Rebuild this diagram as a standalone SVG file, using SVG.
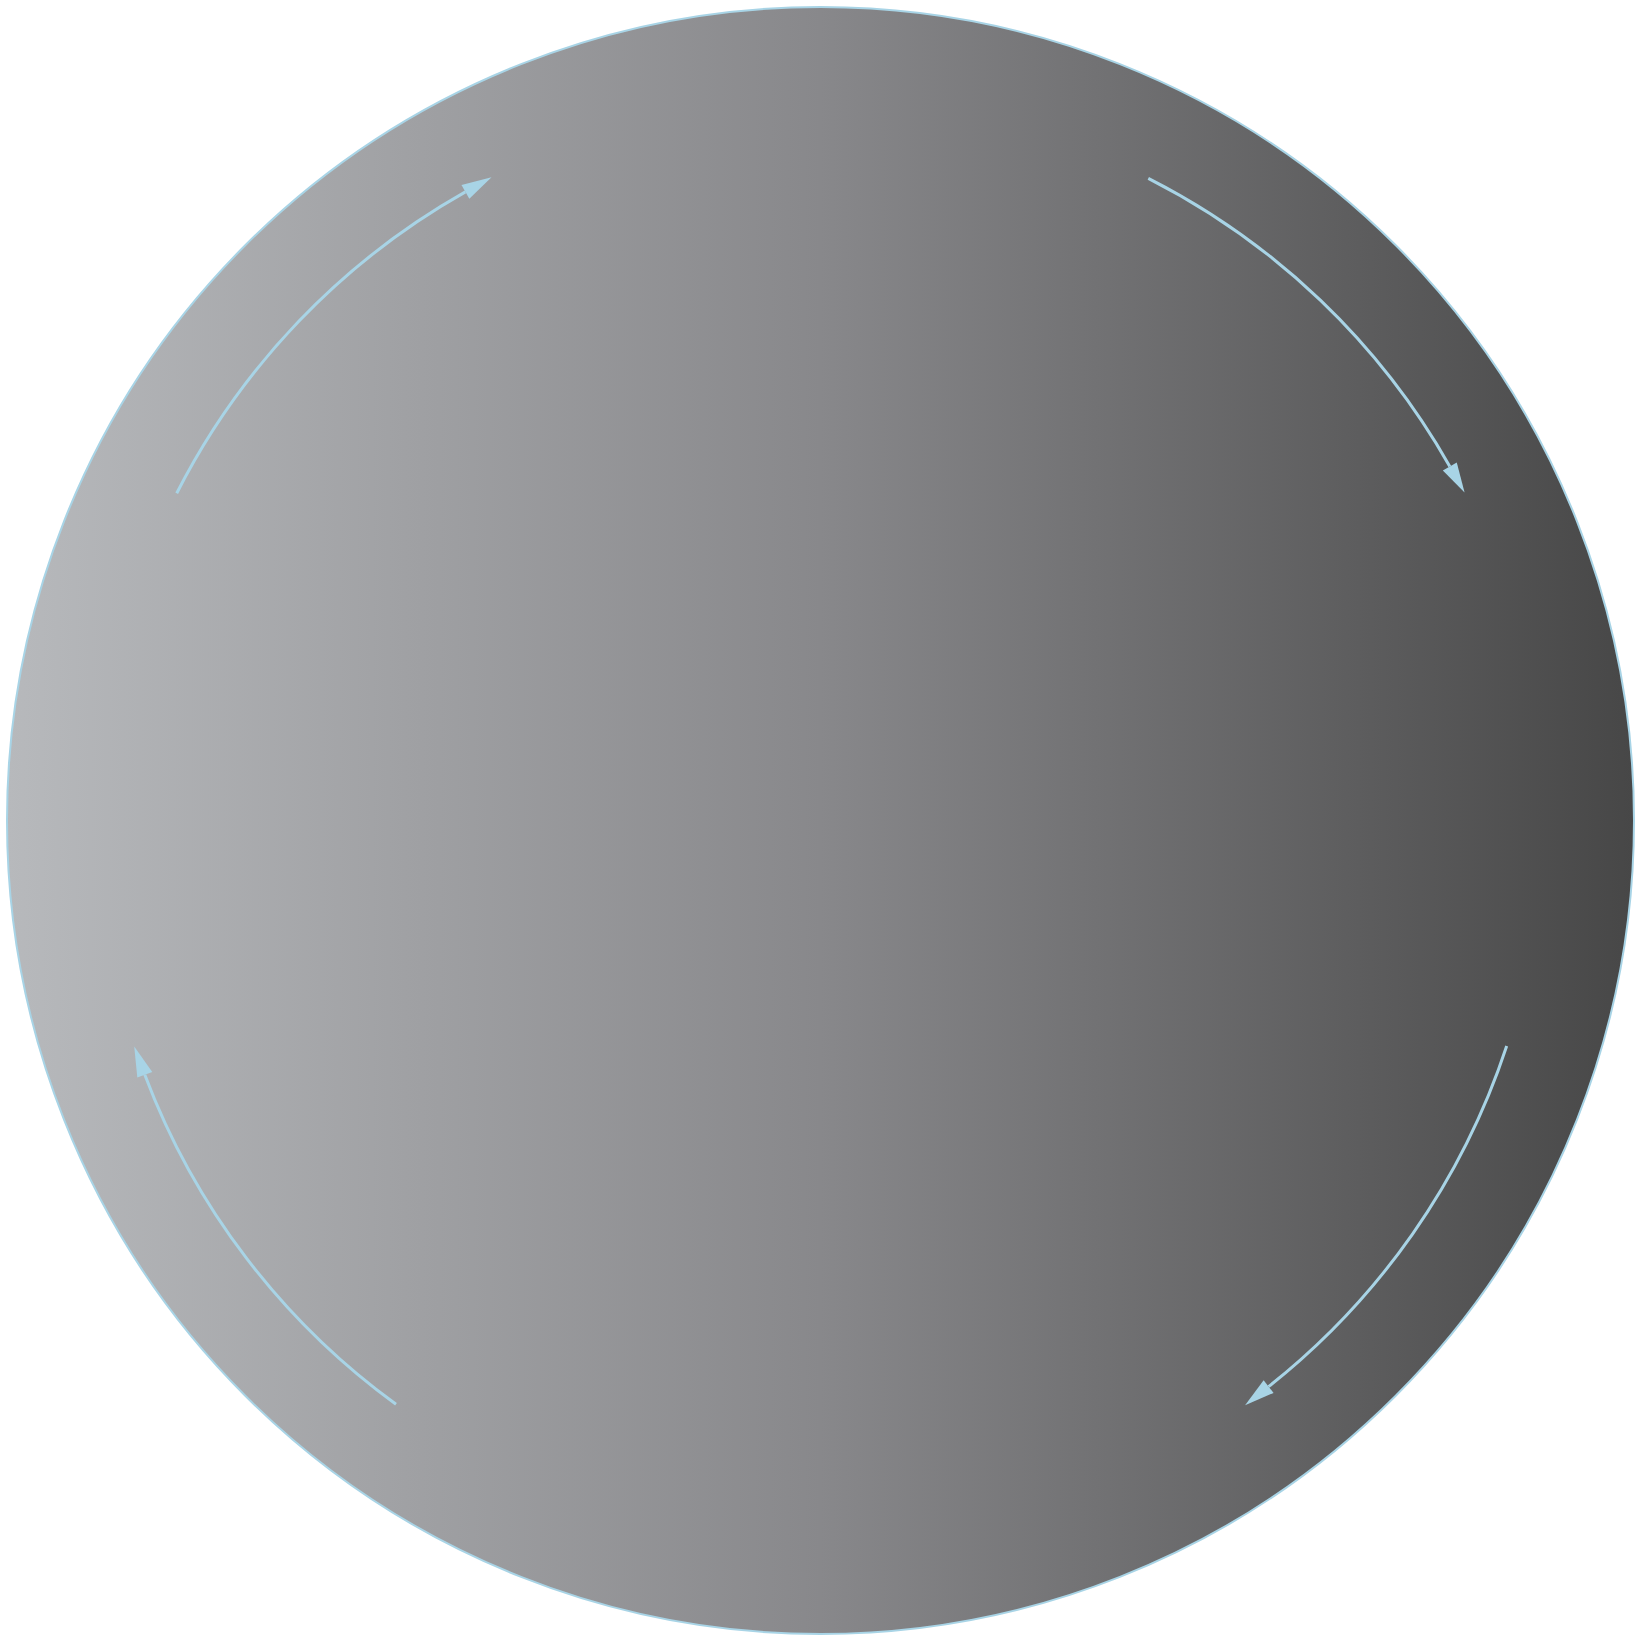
<svg xmlns="http://www.w3.org/2000/svg" width="1641" height="1641" viewBox="0 0 1641 1641">
  <defs>
    <linearGradient id="bg" x1="0" y1="0" x2="1" y2="0">
      <stop offset="0" stop-color="#b7b9bc"/>
      <stop offset="0.5" stop-color="#88888b"/>
      <stop offset="1" stop-color="#474747"/>
    </linearGradient>
    <marker id="arrow" viewBox="0 0 30 16" refX="0" refY="8" markerWidth="30" markerHeight="16" markerUnits="userSpaceOnUse" orient="auto" overflow="visible">
      <path d="M0,0 L30,8 L0,16 Z" fill="#a8d4e6"/>
    </marker>
    <style>
      .conn { fill: none; stroke: #a8d4e6; stroke-width: 3; marker-end: url(#arrow); }
    </style>
  </defs>
  <g id="cycle">
    <circle cx="820.5" cy="820.5" r="813.5" fill="url(#bg)" stroke="#a8d4e6" stroke-width="2"/>
  </g>
  <g id="connectors">
    <path class="conn" d="M176.7,493.3 A722,722 0 0 1 465.4,191.9"/>
    <path class="conn" d="M1148.3,178.3 A722,722 0 0 1 1449.8,466.5"/>
    <path class="conn" d="M1506.7,1046 A722,722 0 0 1 1268.6,1386.6"/>
    <path class="conn" d="M396,1404.3 A722,722 0 0 1 144.8,1074.7"/>
  </g>
</svg>
